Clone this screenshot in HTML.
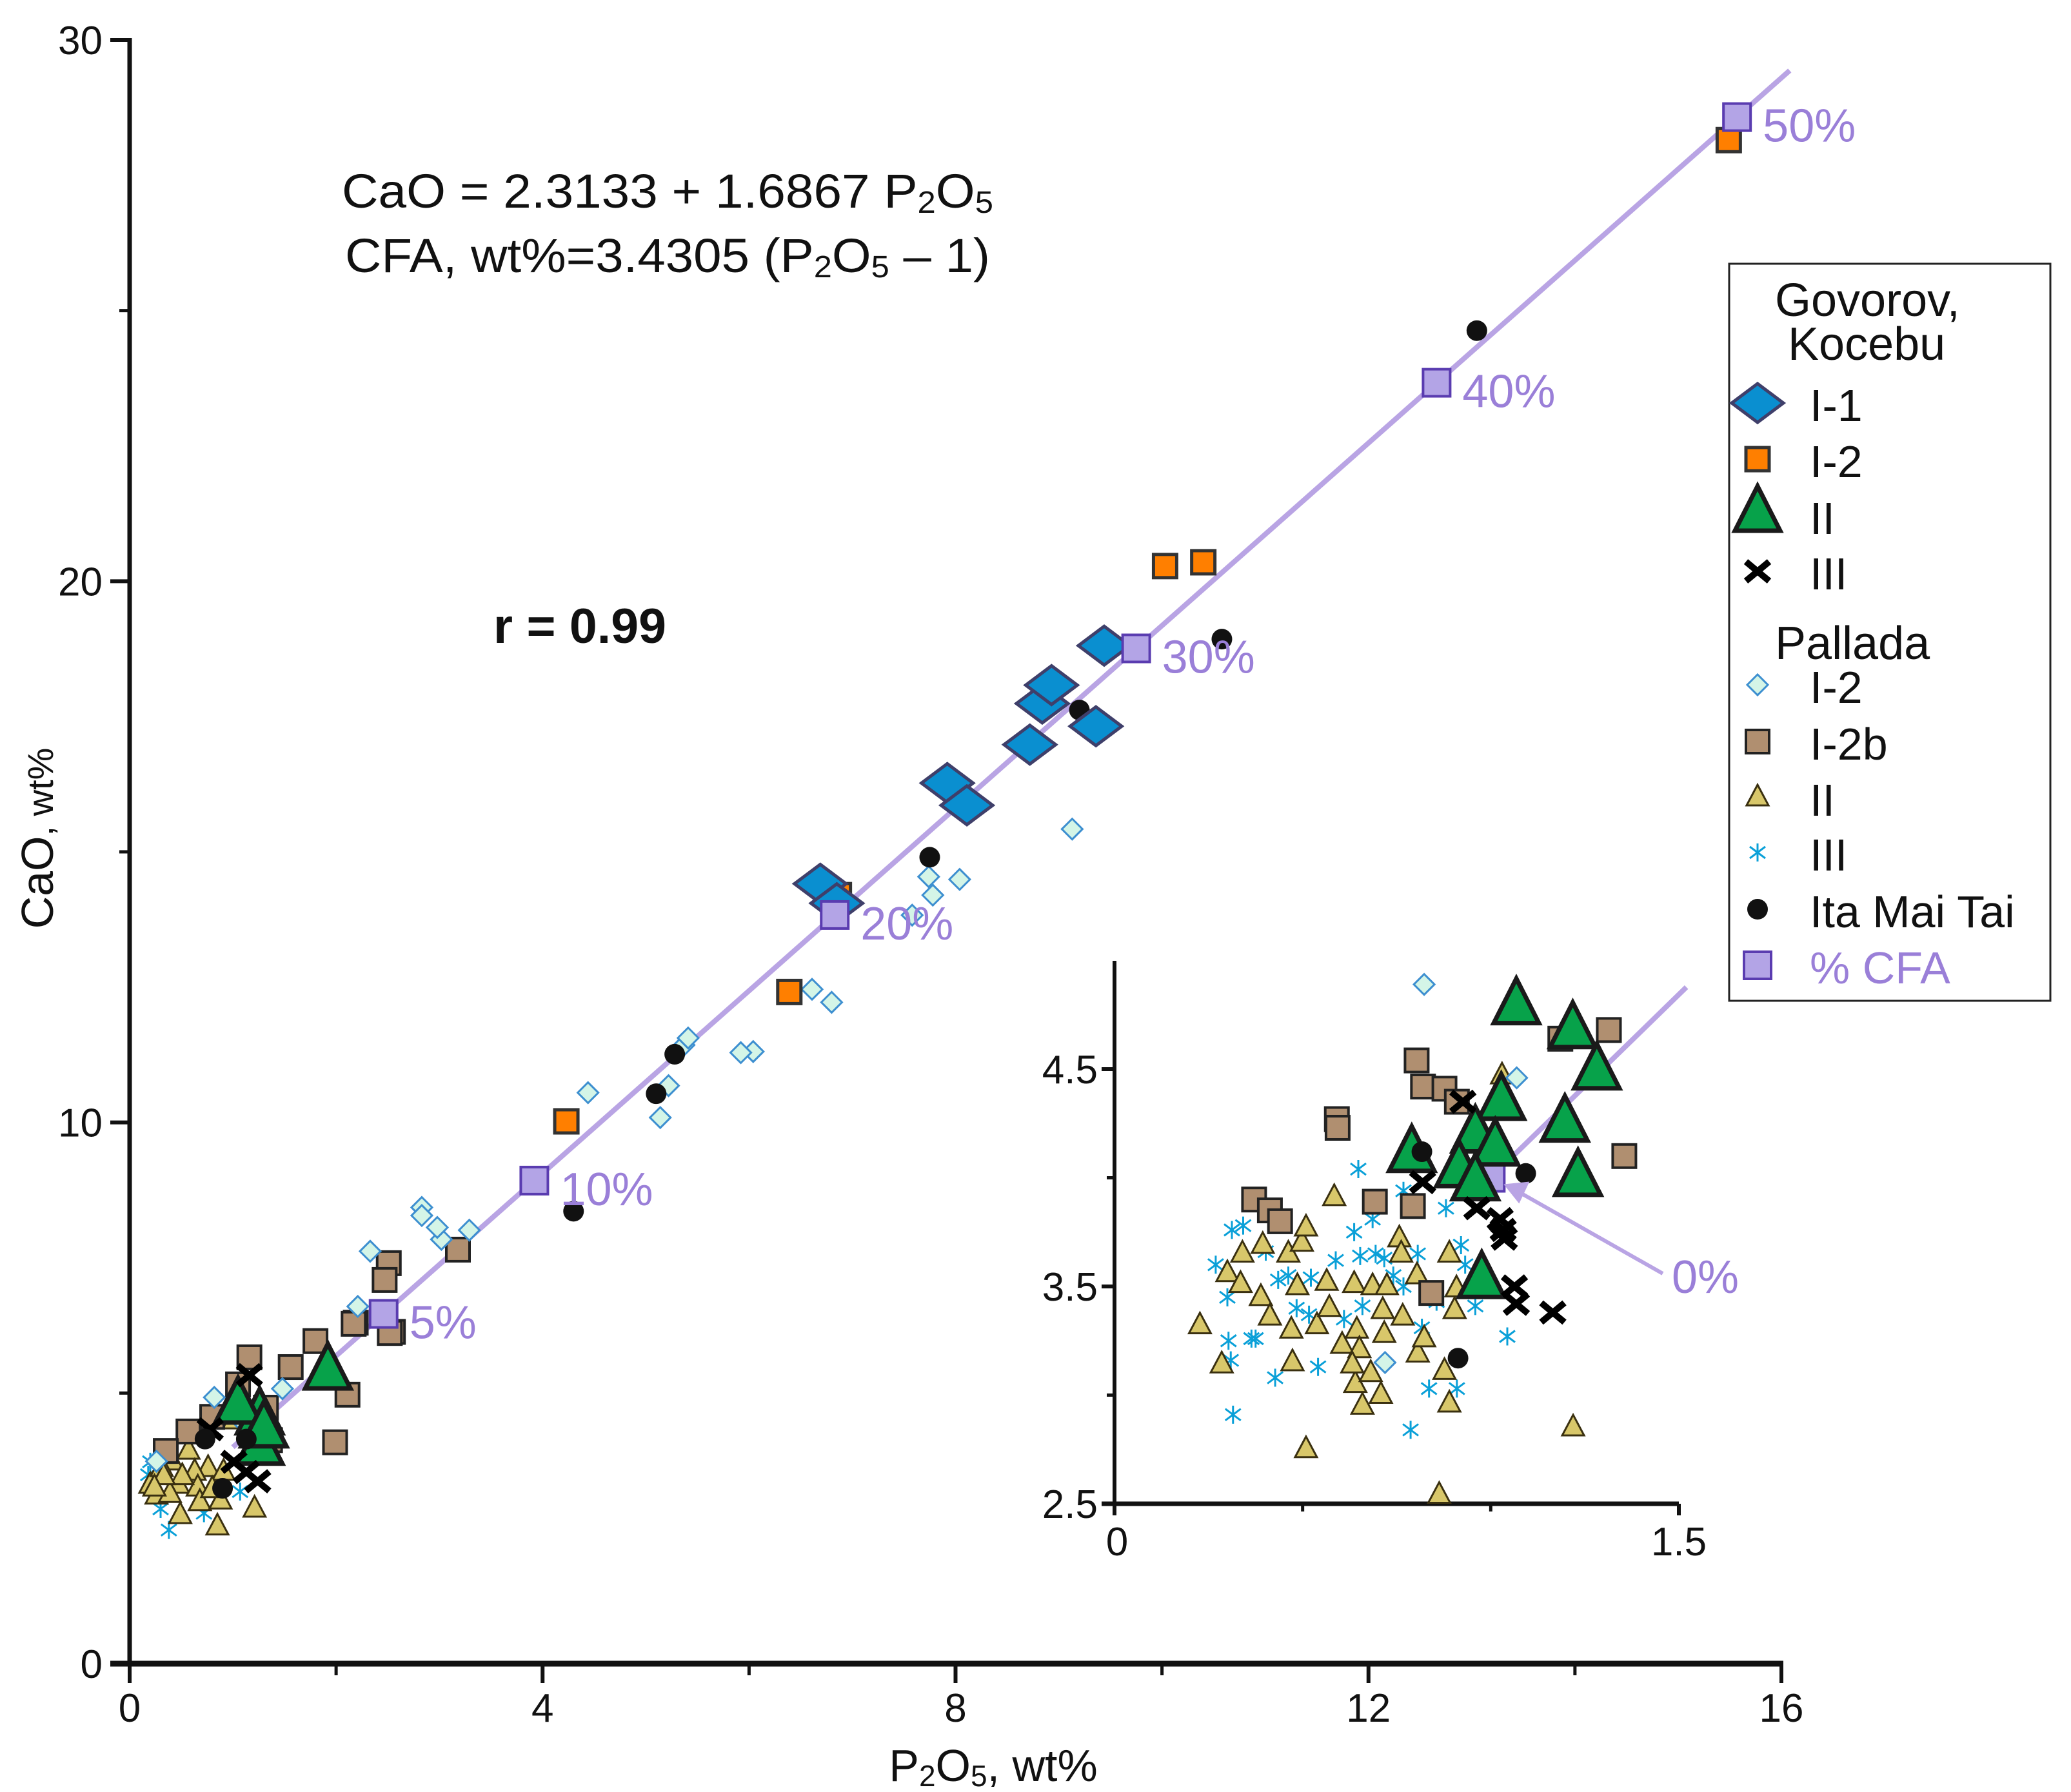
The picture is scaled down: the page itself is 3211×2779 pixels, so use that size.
<!DOCTYPE html>
<html><head><meta charset="utf-8"><style>
html,body{margin:0;padding:0;background:#fff;}
svg{display:block;font-family:"Liberation Sans",sans-serif;}
</style></head><body>
<svg id="chart" width="3211" height="2779" viewBox="0 0 3211 2779" xmlns="http://www.w3.org/2000/svg">
<rect width="3211" height="2779" fill="#fff"/>
<g id="main"></g>
<g id="inset"></g>
<g id="texts">
<text x="530" y="322" font-size="74" fill="#111" textLength="1010" lengthAdjust="spacingAndGlyphs">CaO = 2.3133 + 1.6867 P<tspan font-size="48" dy="8">2</tspan><tspan dy="-8">O</tspan><tspan font-size="48" dy="8">5</tspan></text>
<text x="535" y="422" font-size="74" fill="#111" textLength="1000" lengthAdjust="spacingAndGlyphs">CFA, wt%=3.4305 (P<tspan font-size="48" dy="8">2</tspan><tspan dy="-8">O</tspan><tspan font-size="48" dy="8">5</tspan><tspan dy="-8"> – 1)</tspan></text>
<text x="765" y="997" font-size="76" font-weight="bold" fill="#111" textLength="268" lengthAdjust="spacingAndGlyphs">r = 0.99</text>
<text x="1540" y="2762" font-size="70" fill="#111" text-anchor="middle">P<tspan font-size="46" dy="8">2</tspan><tspan dy="-8">O</tspan><tspan font-size="46" dy="8">5</tspan><tspan dy="-8">, wt%</tspan></text>
<text transform="translate(82,1300) rotate(-90)" font-size="70" fill="#111" text-anchor="middle">CaO<tspan font-size="56">, wt%</tspan></text>
</g>
<g id="legend">
<rect x="2681" y="409" width="498" height="1143" fill="#fff" stroke="#222" stroke-width="3"/>
<text x="2752" y="490" font-size="72" fill="#111">Govorov,</text>
<text x="2772" y="558" font-size="72" fill="#111">Kocebu</text>
<text x="2752" y="1022" font-size="72" fill="#111">Pallada</text>
</g>
</svg>
<script>
// ---------- main chart data ----------
const mainXTicks = [0, 4, 8, 12, 16];
const mainXMinor = [2, 6, 10, 14];
const mainYTicks = [0, 10, 20, 30];
const mainYMinor = [5, 15, 25];
const fitIntercept = 2.3133;
const fitSlope = 1.6867;
const fitRange = [1.0, 16.08];
const cfaPct = [5, 10, 20, 30, 40, 50];
const cfaP = [2.46, 3.92, 6.83, 9.75, 12.66, 15.57];

const i1X = [6.69, 6.85, 7.92, 8.11, 8.72, 8.84, 8.93, 9.36, 9.44];
const i1Y = [14.41, 14.05, 16.27, 15.86, 16.98, 17.74, 18.08, 17.32, 18.81];
const i2X = [6.87, 6.39, 4.23, 10.03, 10.4, 15.49];
const i2Y = [14.2, 12.41, 10.02, 20.28, 20.35, 28.15];
const gIIX = [1.92, 1.26, 1.05, 1.26, 1.3];
const gIIY = [5.36, 4.53, 4.73, 3.97, 4.29];
const gIIIX = [1.16, 0.78, 1.01, 1.24, 1.13];
const gIIIY = [5.33, 4.33, 3.73, 3.37, 3.54];
const itaX = [13.05, 10.58, 9.2, 7.75, 5.28, 5.1, 4.3, 0.73, 1.13, 0.9];
const itaY = [24.63, 18.93, 17.62, 14.9, 11.26, 10.53, 8.36, 4.15, 4.15, 3.24];
const pI2X = [9.13, 7.74, 7.78, 8.04, 7.58, 6.61, 6.8, 6.04, 5.92, 5.37, 5.22, 5.14, 4.44, 3.29, 3.02, 2.98, 2.83, 2.83, 2.33, 2.21, 1.48, 0.82, 0.26, 5.41, 1.06];
const pI2Y = [15.42, 14.54, 14.2, 14.49, 13.83, 12.46, 12.22, 11.31, 11.29, 11.43, 10.68, 10.09, 10.55, 8.01, 7.84, 8.06, 8.43, 8.28, 7.62, 6.6, 5.08, 4.92, 3.74, 11.56, 4.53];
const pI2bX = [2.51, 2.47, 2.55, 2.19, 3.18, 1.16, 1.8, 1.56, 2.11, 1.99, 1.05, 0.8, 0.57, 0.35, 1.32, 1.36, 2.52, 2.17];
const pI2bY = [7.4, 7.09, 6.13, 6.3, 7.65, 5.66, 5.96, 5.48, 4.97, 4.09, 5.16, 4.56, 4.29, 3.93, 4.73, 4.13, 6.11, 6.28];
const pIIX = [0.2, 0.26, 0.49, 0.85, 1.21, 1.01, 0.57, 0.41, 0.76, 0.91, 0.63, 0.31, 0.47, 0.66, 0.39, 0.68, 0.88, 0.8, 0.51, 0.33, 0.24];
const pIIY = [3.3, 3.1, 2.74, 2.53, 2.86, 4.49, 3.93, 3.73, 3.61, 3.54, 3.54, 3.61, 3.3, 3.25, 3.13, 2.98, 3.01, 3.22, 3.46, 3.46, 3.25];
const pIIIX = [0.38, 0.3, 0.2, 0.18, 1.07, 0.72];
const pIIIY = [2.47, 2.86, 3.73, 3.49, 3.18, 2.78];

// ---------- inset data ----------
const inXTicks = [0, 1.5];
const inXMinor = [0.5, 1.0];
const inYTicks = [2.5, 3.5, 4.5];
const inYMinor = [3.0, 4.0];
const inGIIX = [1.068, 1.218, 1.282, 1.028, 1.197, 0.79, 0.959, 1.012, 0.916, 1.232, 0.959, 0.976];
const inGIIY = [4.78, 4.67, 4.48, 4.34, 4.24, 4.1, 4.19, 4.13, 4.03, 3.99, 3.97, 3.52];
const inI2bX = [0.803, 0.82, 0.877, 0.91, 0.591, 0.593, 1.185, 1.314, 1.355, 0.371, 0.413, 0.44, 0.692, 0.793, 0.842];
const inI2bY = [4.54, 4.42, 4.41, 4.35, 4.27, 4.23, 4.64, 4.68, 4.1, 3.9, 3.85, 3.8, 3.89, 3.87, 3.47];
const inGIIIX = [0.926, 0.819, 0.963, 1.025, 1.033, 1.036, 1.063, 1.068, 1.165];
const inGIIIY = [4.35, 3.98, 3.86, 3.81, 3.76, 3.72, 3.5, 3.42, 3.38];
const inItaX = [0.817, 1.093, 0.913];
const inItaY = [4.12, 4.02, 3.17];
const inI2X = [0.823, 1.069, 0.719];
const inI2Y = [4.89, 4.46, 3.15];
const inIIX = [0.227, 0.285, 0.3, 0.335, 0.34, 0.389, 0.394, 0.413, 0.462, 0.47, 0.473, 0.486, 0.498, 0.509, 0.509, 0.538, 0.564, 0.571, 0.584, 0.605, 0.637, 0.64, 0.644, 0.651, 0.659, 0.681, 0.686, 0.708, 0.713, 0.724, 0.717, 0.757, 0.762, 0.766, 0.804, 0.806, 0.863, 0.877, 0.89, 0.89, 0.904, 0.909, 1.03, 1.219, 0.823, 0.632];
const inIIY = [3.32, 3.14, 3.56, 3.51, 3.65, 3.45, 3.69, 3.36, 3.65, 3.3, 3.15, 3.5, 3.7, 3.77, 2.75, 3.32, 3.52, 3.4, 3.91, 3.23, 3.51, 3.05, 3.3, 3.21, 2.95, 3.1, 3.5, 3.0, 3.39, 3.5, 3.28, 3.72, 3.65, 3.36, 3.55, 3.19, 2.54, 3.11, 3.65, 2.96, 3.39, 3.49, 4.47, 2.85, 3.26, 3.14];
const inIIIX = [0.269, 0.3, 0.303, 0.309, 0.315, 0.312, 0.342, 0.364, 0.375, 0.402, 0.427, 0.435, 0.462, 0.484, 0.517, 0.522, 0.541, 0.588, 0.61, 0.637, 0.648, 0.653, 0.659, 0.686, 0.694, 0.717, 0.741, 0.768, 0.787, 0.806, 0.817, 0.836, 0.856, 0.881, 0.91, 0.921, 0.932, 0.959, 1.044, 0.768];
const inIIIY = [3.6, 3.45, 3.25, 3.16, 2.91, 3.76, 3.78, 3.26, 3.26, 3.66, 3.08, 3.53, 3.55, 3.4, 3.37, 3.54, 3.13, 3.62, 3.35, 3.75, 4.04, 3.64, 3.41, 3.81, 3.65, 3.63, 3.55, 3.5, 2.84, 3.65, 3.31, 3.03, 3.43, 3.86, 3.03, 3.69, 3.6, 3.41, 3.27, 3.94];
const inCfaP = [1.0];
const inCfaPct = [0];

// ---------- axes ----------
const NS = 'http://www.w3.org/2000/svg';
const M = {x0: 201, x1: 2762, y0: 2580, y1: 62, xmax: 16, ymax: 30};
const mx = v => M.x0 + v / M.xmax * (M.x1 - M.x0);
const my = v => M.y0 - v / M.ymax * (M.y0 - M.y1);
const I = {x0: 1728, x1: 2603, y0: 2332, yTop: 1490};
const ix = v => I.x0 + v / 1.5 * (I.x1 - I.x0);
const iy = v => I.y0 - (v - 2.5) / 2.0 * (I.y0 - 1658);

function mk(tag, attrs, parent) {
  const e = document.createElementNS(NS, tag);
  for (const k in attrs) e.setAttribute(k, attrs[k]);
  parent.appendChild(e);
  return e;
}
const mainG = document.getElementById('main');
const insetG = document.getElementById('inset');
const legG = document.getElementById('legend');

const COL = {
  blue: '#0a8fd0', orange: '#ff7f00', green: '#07a24a', lav: '#b3a4e6', lavLine: '#b9a4e4',
  lavText: '#9a7fd8', tan: '#d8c76a', brown: '#b08f70', lightD: '#d4f5e7', star: '#0aa0d8'
};

function marker(parent, kind, cx, cy, name) {
  let e;
  if (kind === 'i1') {
    const w = 40, h = 30;
    e = mk('polygon', {points: `${cx-w},${cy} ${cx},${cy-h} ${cx+w},${cy} ${cx},${cy+h}`, fill: COL.blue, stroke: '#3f3f6a', 'stroke-width': 5}, parent);
  } else if (kind === 'i2') {
    e = mk('rect', {x: cx-18, y: cy-18, width: 36, height: 36, fill: COL.orange, stroke: '#333', 'stroke-width': 5}, parent);
  } else if (kind === 'gII') {
    e = mk('polygon', {points: `${cx-35},${cy+23} ${cx},${cy-46} ${cx+35},${cy+23}`, fill: COL.green, stroke: '#1a1a1a', 'stroke-width': 7, 'stroke-linejoin': 'miter'}, parent);
  } else if (kind === 'gIII') {
    e = mk('path', {d: `M${cx-18},${cy-15}L${cx+18},${cy+15}M${cx-18},${cy+15}L${cx+18},${cy-15}`, stroke: '#000', 'stroke-width': 10, fill: 'none'}, parent);
  } else if (kind === 'ita') {
    e = mk('circle', {cx: cx, cy: cy, r: 16, fill: '#111'}, parent);
  } else if (kind === 'pI2') {
    e = mk('polygon', {points: `${cx-16},${cy} ${cx},${cy-16} ${cx+16},${cy} ${cx},${cy+16}`, fill: COL.lightD, stroke: '#3d8fd0', 'stroke-width': 3}, parent);
  } else if (kind === 'pI2b') {
    e = mk('rect', {x: cx-18, y: cy-18, width: 36, height: 36, fill: COL.brown, stroke: '#222', 'stroke-width': 4}, parent);
  } else if (kind === 'pII') {
    e = mk('polygon', {points: `${cx-17},${cy+12} ${cx},${cy-20} ${cx+17},${cy+12}`, fill: COL.tan, stroke: '#3a3010', 'stroke-width': 3}, parent);
  } else if (kind === 'pIII') {
    e = mk('path', {d: `M${cx-12},${cy-9}L${cx+12},${cy+9}M${cx-12},${cy+9}L${cx+12},${cy-9}M${cx},${cy-14}L${cx},${cy+14}`, stroke: COL.star, 'stroke-width': 3, fill: 'none'}, parent);
  } else if (kind === 'cfa') {
    e = mk('rect', {x: cx-21, y: cy-21, width: 42, height: 42, fill: COL.lav, stroke: '#5a3cb0', 'stroke-width': 4}, parent);
  }
  
  
  return e;
}

function series(parent, kind, xs, ys, fx, fy, name) {
  const g = mk('g', {}, parent);
  
  
  for (let i = 0; i < xs.length; i++) marker(g, kind, fx(xs[i]), fy(ys[i]), name + '-point');
}

function txt(parent, x, y, s, attrs, name) {
  const t = mk('text', Object.assign({x: x, y: y}, attrs), parent);
  t.textContent = s;
  
  
  return t;
}

// main axes
let a = mk('line', {x1: M.x0, y1: M.y1 - 3, x2: M.x0, y2: M.y0 + 3, stroke: '#111', 'stroke-width': 7}, mainG);
 
a = mk('line', {x1: M.x0 - 30, y1: M.y0, x2: M.x1 + 3, y2: M.y0, stroke: '#111', 'stroke-width': 9}, mainG);
 
mainXTicks.forEach(v => {
  const l = mk('line', {x1: mx(v), y1: M.y0, x2: mx(v), y2: M.y0 + 30, stroke: '#111', 'stroke-width': 6}, mainG);
   
  txt(mainG, mx(v), M.y0 + 90, String(v), {'font-size': 62, 'text-anchor': 'middle', fill: '#111'}, 'x-tick-label');
});
mainXMinor.forEach(v => {
  const l = mk('line', {x1: mx(v), y1: M.y0, x2: mx(v), y2: M.y0 + 18, stroke: '#111', 'stroke-width': 5}, mainG);
   
});
mainYTicks.forEach(v => {
  const l = mk('line', {x1: M.x0 - 30, y1: my(v), x2: M.x0, y2: my(v), stroke: '#111', 'stroke-width': 6}, mainG);
   
  txt(mainG, M.x0 - 42, my(v) + 22, String(v), {'font-size': 62, 'text-anchor': 'end', fill: '#111'}, 'y-tick-label');
});
mainYMinor.forEach(v => {
  const l = mk('line', {x1: M.x0 - 16, y1: my(v), x2: M.x0, y2: my(v), stroke: '#111', 'stroke-width': 5}, mainG);
   
});
// fit line
a = mk('line', {x1: mx(fitRange[0]), y1: my(fitIntercept + fitSlope * fitRange[0]), x2: mx(fitRange[1]), y2: my(fitIntercept + fitSlope * fitRange[1]), stroke: COL.lavLine, 'stroke-width': 8}, mainG);
 

series(mainG, 'pIII', pIIIX, pIIIY, mx, my, 'pallada-iii');
series(mainG, 'pII', pIIX, pIIY, mx, my, 'pallada-ii');
series(mainG, 'pI2b', pI2bX, pI2bY, mx, my, 'pallada-i-2b');
series(mainG, 'pI2', pI2X, pI2Y, mx, my, 'pallada-i-2');
series(mainG, 'gII', gIIX, gIIY, mx, my, 'govorov-ii');
series(mainG, 'gIII', gIIIX, gIIIY, mx, my, 'govorov-iii');
series(mainG, 'ita', itaX, itaY, mx, my, 'ita-mai-tai');
series(mainG, 'i2', i2X, i2Y, mx, my, 'govorov-i-2');
series(mainG, 'i1', i1X, i1Y, mx, my, 'govorov-i-1');
const cfaG = mk('g', {}, mainG);
 
cfaP.forEach((p, i) => {
  const c = fitIntercept + fitSlope * p;
  marker(cfaG, 'cfa', mx(p), my(c), 'cfa-point');
  txt(cfaG, mx(p) + 40, my(c) + 38, cfaPct[i] + '%', {'font-size': 72, fill: COL.lavText}, 'cfa-label');
});

// inset axes
a = mk('line', {x1: I.x0, y1: I.yTop, x2: I.x0, y2: I.y0 + 18, stroke: '#111', 'stroke-width': 6}, insetG);
 
a = mk('line', {x1: I.x0 - 20, y1: I.y0, x2: I.x1, y2: I.y0, stroke: '#111', 'stroke-width': 7}, insetG);
 
inXTicks.forEach(v => {
  const l = mk('line', {x1: ix(v), y1: I.y0, x2: ix(v), y2: I.y0 + 18, stroke: '#111', 'stroke-width': 6}, insetG);
   
  txt(insetG, ix(v) + (v === 0 ? 4 : 0), I.y0 + 80, String(v), {'font-size': 62, 'text-anchor': 'middle', fill: '#111'}, 'inset-x-tick-label');
});
inXMinor.forEach(v => {
  const l = mk('line', {x1: ix(v), y1: I.y0, x2: ix(v), y2: I.y0 + 12, stroke: '#111', 'stroke-width': 5}, insetG);
   
});
inYTicks.forEach(v => {
  const l = mk('line', {x1: I.x0 - 20, y1: iy(v), x2: I.x0, y2: iy(v), stroke: '#111', 'stroke-width': 6}, insetG);
   
  txt(insetG, I.x0 - 26, iy(v) + 22, v.toFixed(1), {'font-size': 62, 'text-anchor': 'end', fill: '#111'}, 'inset-y-tick-label');
});
inYMinor.forEach(v => {
  const l = mk('line', {x1: I.x0 - 12, y1: iy(v), x2: I.x0, y2: iy(v), stroke: '#111', 'stroke-width': 5}, insetG);
   
});
a = mk('line', {x1: ix(1.0), y1: iy(fitIntercept + fitSlope * 1.0), x2: ix(1.52), y2: iy(fitIntercept + fitSlope * 1.52), stroke: COL.lavLine, 'stroke-width': 8}, insetG);
 

series(insetG, 'pIII', inIIIX, inIIIY, ix, iy, 'inset-pallada-iii');
series(insetG, 'pII', inIIX, inIIY, ix, iy, 'inset-pallada-ii');
series(insetG, 'pI2b', inI2bX, inI2bY, ix, iy, 'inset-pallada-i-2b');
series(insetG, 'pI2', inI2X, inI2Y, ix, iy, 'inset-pallada-i-2');
inCfaP.forEach(p => marker(insetG, 'cfa', ix(p), iy(fitIntercept + fitSlope * p), 'inset-cfa-point'));
series(insetG, 'gII', inGIIX, inGIIY, ix, iy, 'inset-govorov-ii');
series(insetG, 'gIII', inGIIIX, inGIIIY, ix, iy, 'inset-govorov-iii');
series(insetG, 'ita', inItaX, inItaY, ix, iy, 'inset-ita-mai-tai');
// 0% arrow
const c0x = ix(inCfaP[0]) + 20, c0y = iy(fitIntercept + fitSlope * inCfaP[0]) + 10;
a = mk('line', {x1: 2578, y1: 1975, x2: c0x + 20, y2: c0y + 10, stroke: COL.lavLine, 'stroke-width': 6}, insetG);
 
a = mk('polygon', {points: `${c0x},${c0y} ${c0x+40},${c0y-4} ${c0x+24},${c0y+30}`, fill: COL.lavLine}, insetG);
 
txt(insetG, 2592, 2005, inCfaPct[0] + '%', {'font-size': 72, fill: COL.lavText}, 'zero-percent-label');

// legend
const legItems = [
  ['i1', 'I-1', 633, '#111'], ['i2', 'I-2', 720, '#111'], ['gII', 'II', 808, '#111'], ['gIII', 'III', 894, '#111'],
  ['pI2', 'I-2', 1070, '#111'], ['pI2b', 'I-2b', 1158, '#111'], ['pII', 'II', 1245, '#111'], ['pIII', 'III', 1330, '#111'],
  ['ita', 'Ita Mai Tai', 1418, '#111'], ['cfa', '% CFA', 1505, COL.lavText]
];
legItems.forEach(it => {
  const g = mk('g', {}, legG);
  
  
  marker(g, it[0], 2725, it[2] - 8, 'legend-swatch');
  txt(g, 2806, it[2] + 20, it[1], {'font-size': 70, fill: it[3]}, 'legend-label');
});
</script>
</body></html>
